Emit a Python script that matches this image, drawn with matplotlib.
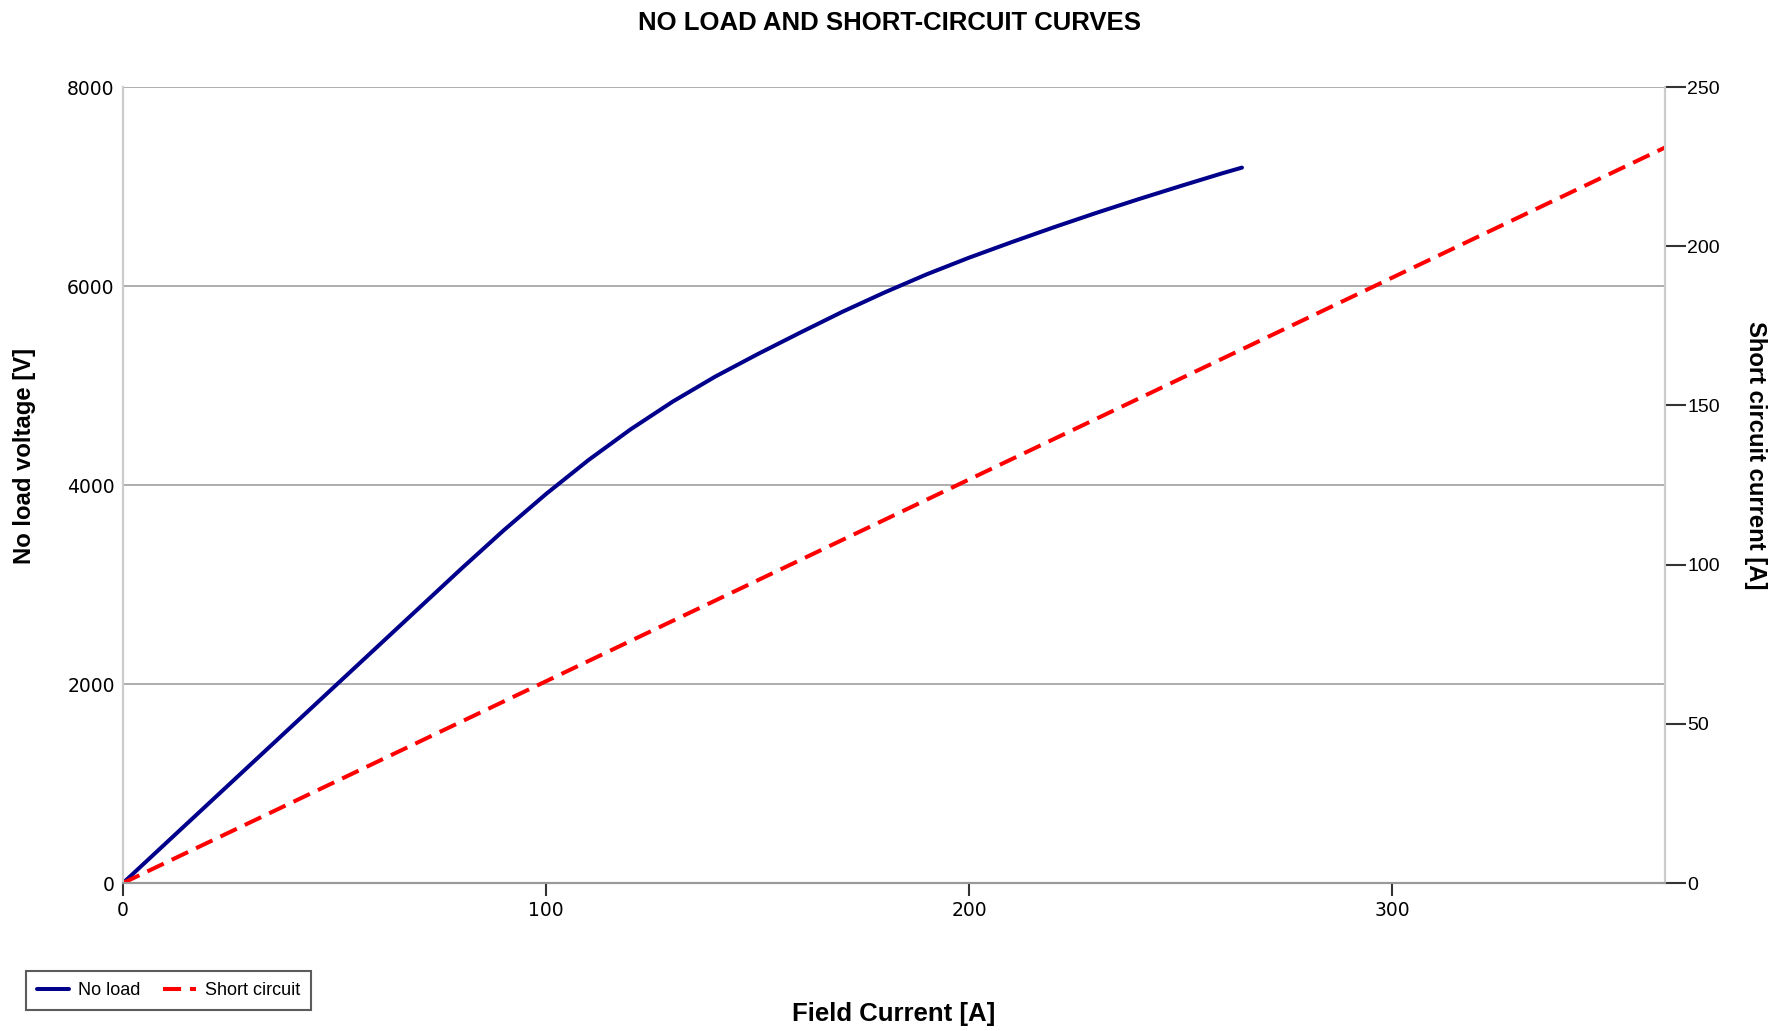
import numpy as np
import matplotlib.pyplot as plt

# open-circuit characteristic: field current [A] -> terminal voltage [V]
field_no_load = [0, 10, 20, 30, 40, 50, 60, 70, 80, 90, 100, 110, 120, 130,
                 140, 150, 160, 170, 180, 190, 200, 210, 220, 230, 240, 250,
                 260, 264.5]
voltage_no_load = [0, 395, 790, 1185, 1580, 1975, 2370, 2765, 3160, 3545,
                   3910, 4250, 4560, 4840, 5090, 5315, 5530, 5740, 5935,
                   6118, 6285, 6440, 6590, 6734, 6872, 7005, 7135, 7190]

# short-circuit characteristic: field current [A] -> armature current [A]
field_short = [0, 364.5]
current_short = [0, 231]

fig = plt.figure(figsize=(17.8, 10.31), dpi=100)
ax = fig.add_axes([0.0691, 0.1435, 0.8663, 0.7721])
ax2 = ax.twinx()

nl, = ax.plot(field_no_load, voltage_no_load, color='#00008b', lw=2.9,
              solid_capstyle='round', solid_joinstyle='round', label='No load')
sc, = ax2.plot(field_short, current_short, color='#ff0000', lw=2.9,
               dashes=(4.5, 2.2), label='Short circuit')

ax.set_xlim(0, 364.5)
ax.set_ylim(0, 8000)
ax2.set_ylim(0, 250)
ax.set_xticks([0, 100, 200, 300])
ax.set_yticks([0, 2000, 4000, 6000, 8000])
ax2.set_yticks([0, 50, 100, 150, 200, 250])

ax.grid(axis='y', color='#a0a0a0', lw=1.2)
ax.set_axisbelow(True)

for a in (ax, ax2):
    a.spines['top'].set_visible(False)
    a.spines['left'].set_color('#cccccc')
    a.spines['right'].set_color('#cccccc')
    a.spines['bottom'].set_color('#999999')
    a.spines['left'].set_linewidth(1.5)
    a.spines['right'].set_linewidth(1.5)
    a.spines['bottom'].set_linewidth(1.5)

ax.tick_params(axis='y', length=0, pad=6, labelsize=13.5)
ax.tick_params(axis='x', length=9, width=1.5, color='#333333', pad=4, labelsize=13.5)
for lbl in ax.get_xticklabels() + ax.get_yticklabels():
    lbl.set_family('DejaVu Sans')
ax2.tick_params(axis='y', length=15, width=1.5, color='#333333', pad=1, labelsize=14)
for lbl in ax2.get_yticklabels():
    lbl.set_family('Liberation Sans')

fig.text(0.5, 0.978, 'NO LOAD AND SHORT-CIRCUIT CURVES', ha='center', va='center',
         fontsize=18.5, fontweight='bold', family='Liberation Sans')
fig.text(0.0135, 0.558, 'No load voltage [V]', rotation=90, ha='center', va='center',
         fontsize=17.2, fontweight='bold', family='Liberation Sans')
fig.text(0.986, 0.558, 'Short circuit current [A]', rotation=-90, ha='center', va='center',
         fontsize=17.2, fontweight='bold', family='Liberation Sans')
fig.text(0.502, 0.0165, 'Field Current [A]', ha='center', va='center',
         fontsize=18.5, fontweight='bold', family='Liberation Sans')

leg = fig.legend(handles=[nl, sc], loc='lower left', bbox_to_anchor=(0.0146, 0.0204),
                 borderaxespad=0, ncol=2, fancybox=False, frameon=True,
                 handlelength=1.8, columnspacing=1.25, handletextpad=0.5,
                 borderpad=0.6, prop={'family': 'Liberation Sans', 'size': 13})
leg.get_frame().set_edgecolor('#333333')
leg.get_frame().set_linewidth(1.5)

fig.savefig('out.png', dpi=100)
